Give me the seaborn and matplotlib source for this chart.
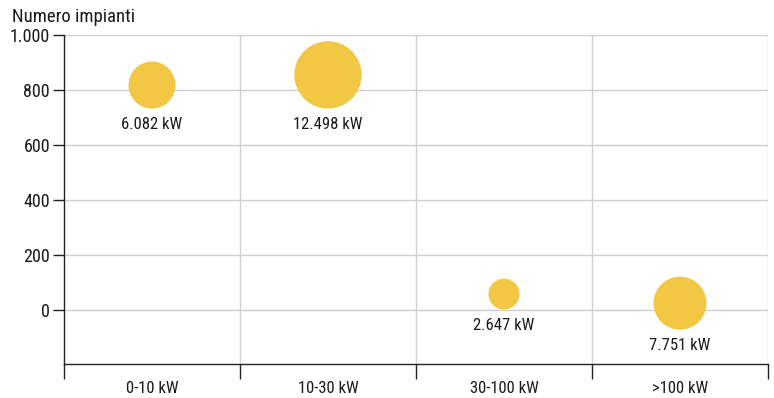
import matplotlib
matplotlib.use("Agg")
import matplotlib.pyplot as plt
import seaborn as sns
import pandas as pd
import numpy as np
from matplotlib import font_manager

categories = ["0-10 kW", "10-30 kW", "30-100 kW", ">100 kW"]
impianti = [818, 855, 58, 25]
potenza_kw = [6082, 12498, 2647, 7751]
potenza_labels = ["6.082 kW", "12.498 kW", "2.647 kW", "7.751 kW"]
y_ticks = [0, 200, 400, 600, 800, 1000]
y_tick_labels = ["0", "200", "400", "600", "800", "1.000"]

sns.set_theme(style="white")
names = {f.name for f in font_manager.fontManager.ttflist}
fams = [f for f in ["Roboto Condensed", "Liberation Sans Narrow", "DejaVu Sans Condensed", "DejaVu Sans"] if f in names]
plt.rcParams["font.family"] = fams

df = pd.DataFrame({"cat": categories, "x": np.arange(len(categories)),
                   "n": impianti, "kw": potenza_kw})

fig = plt.figure(figsize=(7.74, 3.98), dpi=100)
ax = fig.add_axes([64/774, 34/398, (768-64)/774, (364-35)/398])

color = "#F2C744"
smax = 2350
sns.scatterplot(data=df, x="x", y="n", size="kw", sizes=(0, smax), size_norm=(0, max(potenza_kw)),
                color=color, edgecolor="none", alpha=1, legend=False, ax=ax, zorder=3)

for xi, yi, kw, lab in zip(df["x"], impianti, potenza_kw, potenza_labels):
    s = smax * kw / max(potenza_kw)
    r = np.sqrt(s) / 2
    ax.annotate(lab, (xi, yi), xytext=(0, -r - 6), textcoords="offset points",
                ha="center", va="top", fontsize=12, color="#1a1a1a")

ax.set_xlim(-0.5, 3.5)
ax.set_ylim(-196, 1000)
ax.set_yticks(y_ticks)
ax.set_yticklabels(y_tick_labels, fontsize=13, color="#1a1a1a")
bounds = np.arange(-0.5, len(categories), 1.0)
ax.set_xticks(bounds)
ax.set_xticklabels([""] * len(bounds))
ax.set_xticks(np.arange(len(categories)), minor=True)
ax.set_xticklabels(categories, minor=True, fontsize=12, color="#1a1a1a")
ax.tick_params(axis="x", which="major", bottom=True, direction="out", length=11, width=1, color="#222222")
ax.tick_params(axis="x", which="minor", bottom=True, length=0, pad=12)
ax.tick_params(axis="y", which="major", left=True, direction="out", length=8, width=1, color="#222222", pad=2)

for yv in y_ticks:
    ax.axhline(yv, color="#cfcfcf", lw=1, zorder=0)
for xv in bounds[1:]:
    ax.axvline(xv, color="#cfcfcf", lw=1, zorder=0)

for side in ["top", "right"]:
    ax.spines[side].set_visible(False)
for side in ["left", "bottom"]:
    ax.spines[side].set_color("#222222")
    ax.spines[side].set_linewidth(1)

ax.set_xlabel("")
ax.set_ylabel("")
fig.text(12/774, 1 - 17/398, "Numero impianti", fontsize=13.5, color="#1a1a1a", va="center", ha="left")

fig.savefig("out.png", dpi=100)
